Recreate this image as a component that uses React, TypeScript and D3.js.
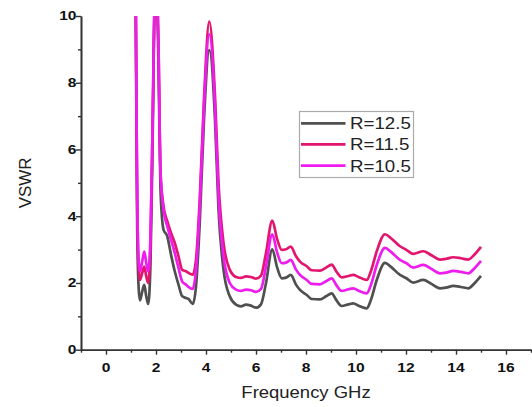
import * as d3 from 'd3';
import React, { useRef, useEffect } from 'react';

const freq = [1.1, 1.18, 1.25, 1.31, 1.36, 1.45, 1.53, 1.61, 1.69, 1.78, 1.86, 1.95, 2.03, 2.1, 2.18, 2.3, 2.45, 2.6, 2.75, 2.9, 3.05, 3.2, 3.3, 3.47, 3.6, 3.75, 3.92, 4.13, 4.36, 4.5, 4.7, 4.95, 5.2, 5.4, 5.6, 5.8, 6.0, 6.2, 6.4, 6.65, 6.85, 7.03, 7.2, 7.39, 7.6, 7.76, 8.03, 8.23, 8.56, 8.8, 9.03, 9.2, 9.43, 9.7, 9.89, 10.1, 10.43, 10.6, 10.83, 11.16, 11.4, 11.76, 12.0, 12.29, 12.69, 13.0, 13.36, 13.6, 13.89, 14.2, 14.49, 14.75, 15.0];

const r125 = [40, 11, 3.5, 1.8, 1.48, 1.75, 1.94, 1.6, 1.37, 2.6, 6.0, 10.3, 10.6, 8.5, 4.8, 3.6, 3.4, 2.85, 2.35, 1.95, 1.6, 1.55, 1.52, 1.37, 1.9, 3.8, 6.9, 8.98, 6.9, 4.2, 2.4, 1.6, 1.35, 1.3, 1.35, 1.32, 1.26, 1.36, 2.0, 3.01, 2.45, 2.14, 2.16, 2.24, 1.95, 1.79, 1.64, 1.52, 1.51, 1.6, 1.69, 1.5, 1.31, 1.36, 1.39, 1.32, 1.24, 1.5, 2.09, 2.6, 2.48, 2.24, 2.15, 2.01, 2.09, 1.98, 1.84, 1.86, 1.91, 1.88, 1.84, 2.0, 2.21];

const r115 = [40, 11.5, 4.2, 2.4, 2.09, 2.3, 2.49, 2.2, 2.0, 3.2, 6.5, 10.4, 10.8, 9.0, 5.3, 4.3, 3.85, 3.5, 3.2, 2.8, 2.39, 2.35, 2.3, 2.25, 2.7, 4.5, 7.5, 9.83, 7.6, 5.0, 3.2, 2.4, 2.18, 2.15, 2.2, 2.18, 2.13, 2.22, 2.9, 3.87, 3.3, 2.99, 3.01, 3.09, 2.8, 2.64, 2.5, 2.38, 2.37, 2.46, 2.55, 2.36, 2.17, 2.21, 2.24, 2.18, 2.09, 2.36, 2.95, 3.46, 3.34, 3.1, 3.0, 2.87, 2.95, 2.84, 2.7, 2.72, 2.77, 2.74, 2.7, 2.86, 3.08];

const r105 = [40, 11.8, 4.6, 2.6, 2.34, 2.65, 2.94, 2.6, 2.34, 3.4, 6.6, 10.5, 10.9, 9.1, 5.3, 4.2, 3.7, 3.3, 2.9, 2.45, 2.04, 1.95, 1.88, 1.82, 2.4, 4.3, 7.3, 9.45, 7.3, 4.6, 2.8, 2.0, 1.8, 1.76, 1.8, 1.78, 1.73, 1.82, 2.5, 3.46, 2.9, 2.59, 2.61, 2.69, 2.4, 2.24, 2.09, 1.97, 1.96, 2.05, 2.14, 1.95, 1.76, 1.81, 1.84, 1.77, 1.69, 1.95, 2.54, 3.05, 2.93, 2.69, 2.6, 2.46, 2.54, 2.43, 2.29, 2.31, 2.36, 2.33, 2.29, 2.45, 2.66];

const seriesNames = ['R=12.5', 'R=11.5', 'R=10.5'];
const seriesColors = ['#505050', '#e2166e', '#ee1cee'];
const xMajor = [0, 2, 4, 6, 8, 10, 12, 14, 16];
const xMinor = [-1, 1, 3, 5, 7, 9, 11, 13, 15, 17];
const yMajor = [0, 2, 4, 6, 8, 10];
const yMinor = [1, 3, 5, 7, 9];

function App() {
    const ref = useRef(null);

    useEffect(() => {
        draw();
    }, []);

    const draw = () => {
        const svg = d3.select(ref.current);
        svg.selectAll('*').remove();

        const x = d3.scaleLinear().domain([-1, 17]).range([81, 531]);
        const y = d3.scaleLinear().domain([0, 10]).range([349.7, 16]);
        const font = 'Arial, "Liberation Sans", sans-serif';

        svg.append('defs').append('clipPath').attr('id', 'plotclip')
            .append('rect')
            .attr('x', x(-1)).attr('y', y(10))
            .attr('width', x(17) - x(-1)).attr('height', y(0) - y(10));

        // lines
        const all = [r125, r115, r105];
        const line = d3.line()
            .x((d, i) => x(freq[i]))
            .y(d => y(d))
            .curve(d3.curveMonotoneX);
        const lg = svg.append('g').attr('clip-path', 'url(#plotclip)');
        all.forEach((s, k) => {
            lg.append('path')
                .attr('d', line(s))
                .attr('fill', 'none')
                .attr('stroke', seriesColors[k])
                .attr('stroke-width', 2.7)
                .attr('stroke-linejoin', 'round');
        });

        // axes
        const axisColor = '#333';
        const bottom = svg.append('g').attr('transform', 'translate(0,' + y(0) + ')');
        bottom.call(d3.axisBottom(x).tickValues(xMajor).tickSize(5).tickSizeOuter(0).tickFormat(() => ''));
        bottom.append('g').call(d3.axisBottom(x).tickValues(xMinor).tickSize(3).tickSizeOuter(0).tickFormat(() => ''));
        const left = svg.append('g').attr('transform', 'translate(' + x(-1) + ',0)');
        left.call(d3.axisLeft(y).tickValues(yMajor).tickSize(5).tickSizeOuter(0).tickFormat(() => ''));
        left.append('g').call(d3.axisLeft(y).tickValues(yMinor).tickSize(3).tickSizeOuter(0).tickFormat(() => ''));
        svg.selectAll('.domain').attr('stroke', axisColor).attr('stroke-width', 1.6);
        svg.selectAll('.tick line').attr('stroke', axisColor).attr('stroke-width', 1.4);

        xMajor.forEach(v => {
            svg.append('text')
                .attr('transform', 'translate(' + x(v) + ',372) scale(1.3,1)')
                .attr('text-anchor', 'middle')
                .style('font-family', font).style('font-weight', 'bold').style('font-size', '12px')
                .attr('fill', '#111')
                .text(v);
        });
        yMajor.forEach(v => {
            svg.append('text')
                .attr('transform', 'translate(76.5,' + (y(v) + 4.3) + ') scale(1.3,1)')
                .attr('text-anchor', 'end')
                .style('font-family', font).style('font-weight', 'bold').style('font-size', '12px')
                .attr('fill', '#111')
                .text(v);
        });

        // axis titles
        svg.append('text')
            .attr('transform', 'translate(' + ((x(-1) + x(17)) / 2) + ',398) scale(1.12,1)')
            .attr('text-anchor', 'middle')
            .style('font-family', font).style('font-size', '16.5px')
            .attr('fill', '#222')
            .text('Frequency GHz');
        svg.append('text')
            .attr('transform', 'translate(31,' + ((y(0) + y(10)) / 2) + ') rotate(-90)')
            .attr('text-anchor', 'middle')
            .style('font-family', font).style('font-size', '17px')
            .attr('fill', '#222')
            .text('VSWR');

        // legend
        const leg = svg.append('g');
        leg.append('rect')
            .attr('x', 299.5).attr('y', 111.5).attr('width', 114).attr('height', 66)
            .attr('fill', 'white').attr('stroke', '#aaa').attr('stroke-width', 1.2);
        const rows = [123.3, 144.3, 165.7];
        seriesNames.forEach((name, k) => {
            leg.append('line')
                .attr('x1', 301).attr('x2', 345.5)
                .attr('y1', rows[k]).attr('y2', rows[k])
                .attr('stroke', seriesColors[k]).attr('stroke-width', 2.7);
            leg.append('text')
                .attr('transform', 'translate(350,' + (rows[k] + 5.8) + ') scale(1.17,1)')
                .style('font-family', font).style('font-size', '16px')
                .attr('fill', '#222')
                .text(name);
        });
    };

    return (
        <svg ref={ref} width={532} height={407}
            style={{ position: 'absolute', left: 0, top: 0, background: 'white' }}>
        </svg>
    );
}

export default App;
